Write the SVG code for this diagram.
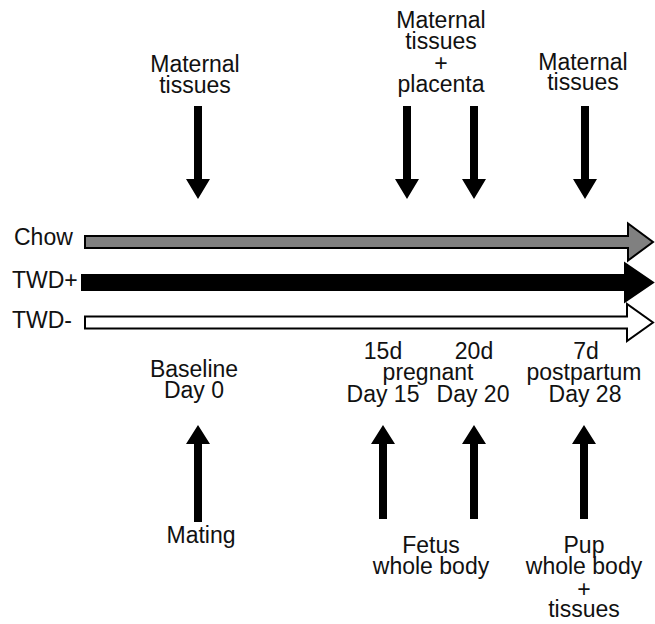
<svg xmlns="http://www.w3.org/2000/svg" width="655" height="624" viewBox="0 0 655 624">
<style>
  text { font-family: "Liberation Sans", Arial, sans-serif; font-size: 23px; fill: #111; }
  .c { text-anchor: middle; }
  .arr { fill: #000; }
  .bar { stroke: #000; stroke-width: 2; stroke-linejoin: miter; }
</style>
<rect width="655" height="624" fill="#fff"/>
<g id="timelines">
  <g id="chow">
    <text x="14" y="245">Chow</text>
    <path class="bar" fill="#808080" d="M85,236 H628 V223.5 L653,242 L628,260.5 V248 H85 Z"/>
  </g>
  <g id="twd-plus">
    <text x="12" y="288">TWD+</text>
    <path class="bar" fill="#000" d="M82,275 H625 V263.5 L653,282.5 L625,301.5 V290 H82 Z"/>
  </g>
  <g id="twd-minus">
    <text x="12" y="328">TWD-</text>
    <path class="bar" fill="#fff" d="M85,316.5 H627 V304 L653,322.5 L627,341 V328.5 H85 Z"/>
  </g>
</g>
<g id="top-labels">
  <g id="top-baseline">
    <text class="c" x="195" y="72">Maternal</text>
    <text class="c" x="195" y="93">tissues</text>
  </g>
  <g id="top-pregnant">
    <text class="c" x="441" y="28">Maternal</text>
    <text class="c" x="441" y="49">tissues</text>
    <text class="c" x="441" y="71">+</text>
    <text class="c" x="441" y="92">placenta</text>
  </g>
  <g id="top-postpartum">
    <text class="c" x="583" y="70">Maternal</text>
    <text class="c" x="583" y="90">tissues</text>
  </g>
</g>
<g id="timepoints">
  <g id="tp-day0">
    <text class="c" x="194" y="377">Baseline</text>
    <text class="c" x="194" y="398">Day 0</text>
  </g>
  <g id="tp-day15">
    <text class="c" x="383" y="359">15d</text>
    <text class="c" x="383" y="402">Day 15</text>
  </g>
  <text id="tp-pregnant" class="c" x="428" y="380">pregnant</text>
  <g id="tp-day20">
    <text class="c" x="474" y="359">20d</text>
    <text class="c" x="473" y="402">Day 20</text>
  </g>
  <g id="tp-day28">
    <text class="c" x="586" y="359">7d</text>
    <text class="c" x="584" y="380">postpartum</text>
    <text class="c" x="585" y="402">Day 28</text>
  </g>
</g>
<g id="bottom-labels">
  <text id="mating" class="c" x="201" y="543">Mating</text>
  <g id="fetus">
    <text class="c" x="431" y="553">Fetus</text>
    <text class="c" x="431" y="574">whole body</text>
  </g>
  <g id="pup">
    <text class="c" x="584" y="553">Pup</text>
    <text class="c" x="584" y="574">whole body</text>
    <text class="c" x="584" y="597">+</text>
    <text class="c" x="584" y="617">tissues</text>
  </g>
</g>
<g id="connectors">
  <path class="arr" d="M194,106 H202 V179 H210 L198,199 L186,179 H194 Z"/>
  <path class="arr" d="M403,106 H411 V179 H419 L407,199 L395,179 H403 Z"/>
  <path class="arr" d="M470,106 H478 V179 H486 L474,199 L462,179 H470 Z"/>
  <path class="arr" d="M581,106 H589 V179 H597 L585,199 L573,179 H581 Z"/>
  <path class="arr" d="M194,522 H202 V444 H210 L198,425 L186,444 H194 Z"/>
  <path class="arr" d="M379,519 H387 V444 H395 L383,425 L371,444 H379 Z"/>
  <path class="arr" d="M470,519 H478 V444 H486 L474,425 L462,444 H470 Z"/>
  <path class="arr" d="M580,519 H588 V444 H596 L584,425 L572,444 H580 Z"/>
</g>
</svg>
